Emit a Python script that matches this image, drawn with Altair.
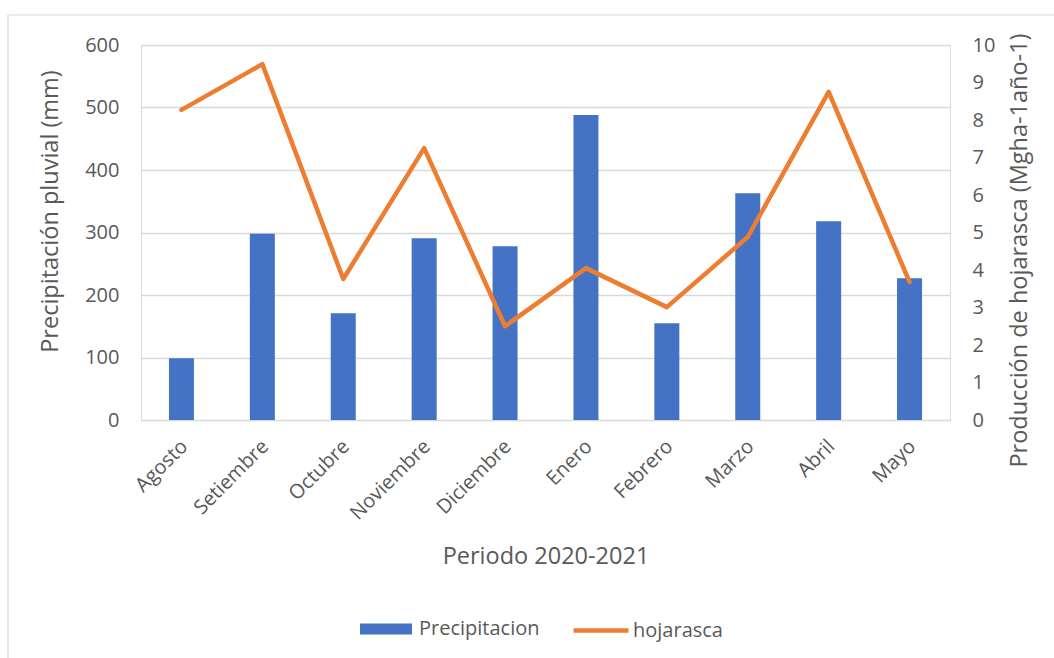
import altair as alt
import pandas as pd

meses = ["Agosto", "Setiembre", "Octubre", "Noviembre", "Diciembre",
         "Enero", "Febrero", "Marzo", "Abril", "Mayo"]
precipitacion = [99, 298, 171, 291, 278, 488, 155, 363, 318, 227]
hojarasca = [8.27, 9.49, 3.76, 7.25, 2.5, 4.05, 3.01, 4.88, 8.75, 3.68]

df = pd.DataFrame({"mes": meses, "Precipitacion": precipitacion, "hojarasca": hojarasca,
                   "s1": "Precipitacion", "s2": "hojarasca"})

FONT = "Open Sans"
GREY = "#595959"
LBL = 20
TTL = 23.5

x = alt.X("mes:N", sort=meses, title="Periodo 2020-2021",
          scale=alt.Scale(paddingInner=0, paddingOuter=0),
          axis=alt.Axis(labelAngle=-45, labelAlign="right", labelBaseline="middle",
                        labelFontSize=LBL, labelColor=GREY, labelPadding=23, labelOffset=3,
                        titleFontSize=TTL, titleColor=GREY, titleFontWeight="normal",
                        titlePadding=21, ticks=False, domain=False, grid=False))

frame = alt.Chart(pd.DataFrame({"a": [0]})).mark_rect(
    fill=None, stroke="#d9d9d9", strokeWidth=1.2, clip=False
).encode(x=alt.value(-133), x2=alt.value(925), y=alt.value(-30), y2=alt.value(640))

bars = alt.Chart(df).mark_bar(size=25, color="#4472C4").encode(
    x=x,
    y=alt.Y("Precipitacion:Q", title="Precipitación pluvial (mm)",
            scale=alt.Scale(domain=[0, 600]),
            axis=alt.Axis(values=[0, 100, 200, 300, 400, 500, 600], orient="left",
                          labelFontSize=LBL, labelColor=GREY, labelPadding=22,
                          titleFontSize=TTL, titleColor=GREY, titleFontWeight="normal",
                          titlePadding=22, titleY=166, ticks=False, domain=False,
                          grid=True, gridColor="#d9d9d9", gridWidth=1.3)),
    color=alt.Color("s1:N", scale=alt.Scale(domain=["Precipitacion"], range=["#4472C4"]),
                    legend=alt.Legend(title=None, orient="none", legendX=218, legendY=557,
                                      symbolType="M-1,-0.21H1V0.21H-1Z", symbolSize=2704,
                                      labelFontSize=LBL, labelColor=GREY, labelFont=FONT,
                                      symbolOpacity=1, labelOffset=6))
)

line = alt.Chart(df).mark_line(color="#ED7D31", strokeWidth=4.5, strokeCap="round",
                               strokeJoin="round").encode(
    x=x,
    y=alt.Y("hojarasca:Q", title="Producción de hojarasca (Mgha-1año-1)",
            scale=alt.Scale(domain=[0, 10]),
            axis=alt.Axis(values=list(range(0, 11)), orient="right",
                          labelFontSize=LBL, labelColor=GREY, labelPadding=22,
                          titleFontSize=TTL, titleColor=GREY, titleFontWeight="normal",
                          titleAngle=270, titleBaseline="top", titleY=205,
                          titlePadding=13, ticks=False, domain=False, grid=False)),
    stroke=alt.Stroke("s2:N", scale=alt.Scale(domain=["hojarasca"], range=["#ED7D31"]),
                      legend=alt.Legend(title=None, orient="none", legendX=430, legendY=555.5,
                                        symbolType="stroke", symbolStrokeWidth=4.5,
                                        symbolSize=3025,
                                        labelFontSize=LBL, labelColor=GREY, labelFont=FONT,
                                        labelOffset=2))
)

chart = alt.layer(frame, bars, line).resolve_scale(
    y="independent", color="independent", stroke="independent"
).properties(
    width=809, height=375,
    autosize=alt.AutoSizeParams(type="none"),
    padding={"left": 141, "top": 45, "right": 104, "bottom": 238},
    background="white"
).configure_view(stroke=None).configure(font=FONT)

chart.save("out.html", embed_options={"renderer": "svg", "actions": False})
